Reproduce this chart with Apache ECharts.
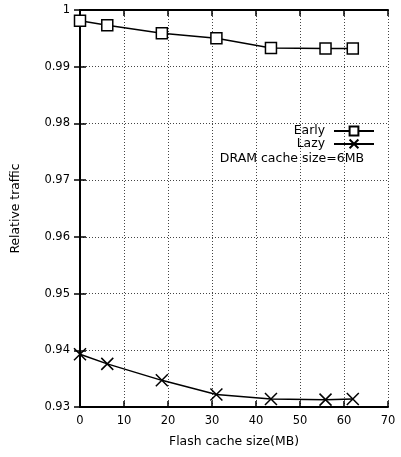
<!DOCTYPE html>
<html><head><meta charset="utf-8">
<script src="https://cdn.jsdelivr.net/npm/echarts@6/dist/echarts.min.js"></script>
<style>html,body{margin:0;padding:0;background:#fff}#c{width:401px;height:457px}</style>
</head><body><div id="c"></div>
<script>
const flashSizes = [0, 6.2, 18.6, 31, 43.4, 55.8, 62];
const earlyValues = [0.9981, 0.9973, 0.9959, 0.9950, 0.9933, 0.9932, 0.9932];
const lazyValues = [0.9393, 0.9376, 0.9347, 0.9322, 0.9314, 0.9313, 0.9314];
const seriesNames = ['Early', 'Lazy'];
const xTicks = [0, 70, 10];
const yTicks = [0.93, 1, 0.01];
const noteText = 'DRAM cache size=6MB';

const font = 'DejaVu Sans';
const chart = echarts.init(document.getElementById('c'));
const pair = (xs, ys) => xs.map((x, i) => [x, ys[i]]);
const axisLine = {show: true, lineStyle: {color: '#000', width: 2}};
const tick = {show: true, inside: true, length: 6, lineStyle: {color: '#000', width: 1.5}};
const grid = {show: true, lineStyle: {color: '#444', type: [1, 2], width: 1}};
chart.setOption({
  animation: false,
  grid: {left: 80, right: 13, top: 10, bottom: 50},
  xAxis: [
    {type: 'value', min: xTicks[0], max: xTicks[1], interval: xTicks[2], position: 'bottom',
     axisLine, axisTick: tick, splitLine: grid,
     axisLabel: {color: '#000', fontFamily: font, fontSize: 11.5, margin: 8},
     name: 'Flash cache size(MB)', nameLocation: 'middle', nameGap: 29,
     nameTextStyle: {color: '#000', fontFamily: font, fontSize: 12.4}},
    {type: 'value', min: xTicks[0], max: xTicks[1], interval: xTicks[2], position: 'top',
     axisLine, axisTick: tick, splitLine: {show: false}, axisLabel: {show: false}}
  ],
  yAxis: [
    {type: 'value', min: yTicks[0], max: yTicks[1], interval: yTicks[2], position: 'left',
     axisLine, axisTick: tick, splitLine: grid,
     axisLabel: {color: '#000', fontFamily: font, fontSize: 11.5, margin: 10,
       formatter: v => String(+v.toFixed(2))},
     name: 'Relative traffic', nameLocation: 'middle', nameGap: 58, nameRotate: 90,
     nameTextStyle: {color: '#000', fontFamily: font, fontSize: 12.4}},
    {type: 'value', min: yTicks[0], max: yTicks[1], interval: yTicks[2], position: 'right',
     axisLine, axisTick: tick, splitLine: {show: false}, axisLabel: {show: false}}
  ],
  legend: {
    orient: 'vertical', right: 21, top: 120, align: 'right', itemGap: 0,
    itemWidth: 40, itemHeight: 11,
    textStyle: {color: '#000', fontFamily: font, fontSize: 12.4, padding: [0, 4, 0, 0]},
    data: seriesNames
  },
  graphic: [{type: 'text', right: 37, top: 152,
    style: {text: noteText, fill: '#000', font: '12.5px "DejaVu Sans"'}}],
  series: [
    {name: seriesNames[0], type: 'line', data: pair(flashSizes, earlyValues),
     symbol: 'rect', symbolSize: 11, showAllSymbol: true,
     lineStyle: {color: '#000', width: 1.5},
     itemStyle: {color: '#fff', borderColor: '#000', borderWidth: 1.5}},
    {name: seriesNames[1], type: 'line', data: pair(flashSizes, lazyValues),
     symbol: 'path://M0,0L10,10M10,0L0,10', symbolSize: 12, showAllSymbol: true,
     lineStyle: {color: '#000', width: 1.5},
     itemStyle: {color: 'none', borderColor: '#000', borderWidth: 1.5}}
  ]
});
</script></body></html>
